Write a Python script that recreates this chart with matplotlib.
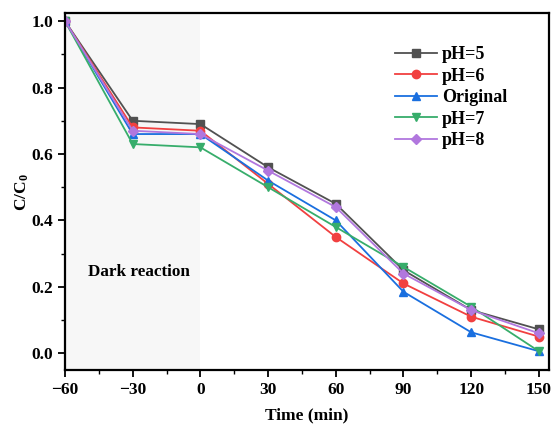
import matplotlib
matplotlib.use("Agg")
import matplotlib.pyplot as plt
from matplotlib.ticker import MultipleLocator

plt.rcParams['font.family'] = ['Liberation Serif', 'DejaVu Serif']
plt.rcParams['font.weight'] = 'bold'
plt.rcParams['mathtext.fontset'] = 'custom'
plt.rcParams['mathtext.rm'] = 'Liberation Serif:bold'
plt.rcParams['mathtext.it'] = 'Liberation Serif:bold'

time = [-60, -30, 0, 30, 60, 90, 120, 150]
ph5 = [1.0, 0.70, 0.69, 0.56, 0.45, 0.25, 0.13, 0.072]
ph6 = [1.0, 0.68, 0.67, 0.51, 0.35, 0.21, 0.11, 0.05]
original = [1.0, 0.66, 0.66, 0.52, 0.40, 0.185, 0.063, 0.006]
ph7 = [1.0, 0.63, 0.62, 0.50, 0.38, 0.26, 0.14, 0.006]
ph8 = [1.0, 0.67, 0.66, 0.55, 0.44, 0.24, 0.13, 0.06]

series = [
    ("pH=5", ph5, "#515151", "s"),
    ("pH=6", ph6, "#F14040", "o"),
    ("Original", original, "#1A6FDF", "^"),
    ("pH=7", ph7, "#37AD6B", "v"),
    ("pH=8", ph8, "#B177DE", "D"),
]

fig = plt.figure(figsize=(5.51, 4.25), dpi=100)
ax = fig.add_axes([0.118, 0.129, 0.878, 0.840])

# dark reaction period
ax.axvspan(-60, 0, color="#f7f7f7", zorder=0, lw=0)

for label, vals, c, m in series:
    ms = 5 if m == "D" else 6
    ax.plot(time, vals, color=c, marker=m, markersize=ms, lw=1.3, label=label)

ax.text(-50, 0.245, "Dark reaction", fontsize=12.3, fontweight='bold', va='center')

ax.set_xlim(-60, 154.4)
ax.set_ylim(-0.051, 1.024)
ax.set_xticks(time)
ax.set_xticklabels(["\u221260", "\u221230", "0", "30", "60", "90", "120", "150"])
ax.xaxis.set_minor_locator(MultipleLocator(15))
ax.yaxis.set_major_locator(MultipleLocator(0.2))
ax.yaxis.set_minor_locator(MultipleLocator(0.1))
ax.tick_params(which='major', direction='out', length=5, width=1.3, labelsize=12.5)
ax.tick_params(which='minor', direction='out', length=3, width=1.0)
for s in ax.spines.values():
    s.set_linewidth(1.6)

ax.set_xlabel("Time (min)", fontsize=12.5, fontweight='bold', labelpad=7)
ax.set_ylabel("C/C$_0$", fontsize=12.5, fontweight='bold', labelpad=0)

ax.legend(loc='upper left', bbox_to_anchor=(386 / 551, 1 - 37 / 425),
          bbox_transform=fig.transFigure, frameon=False, borderpad=0,
          fontsize=13, handlelength=2.3, labelspacing=0.25, handletextpad=0.3)

fig.savefig("out.png", dpi=100)
